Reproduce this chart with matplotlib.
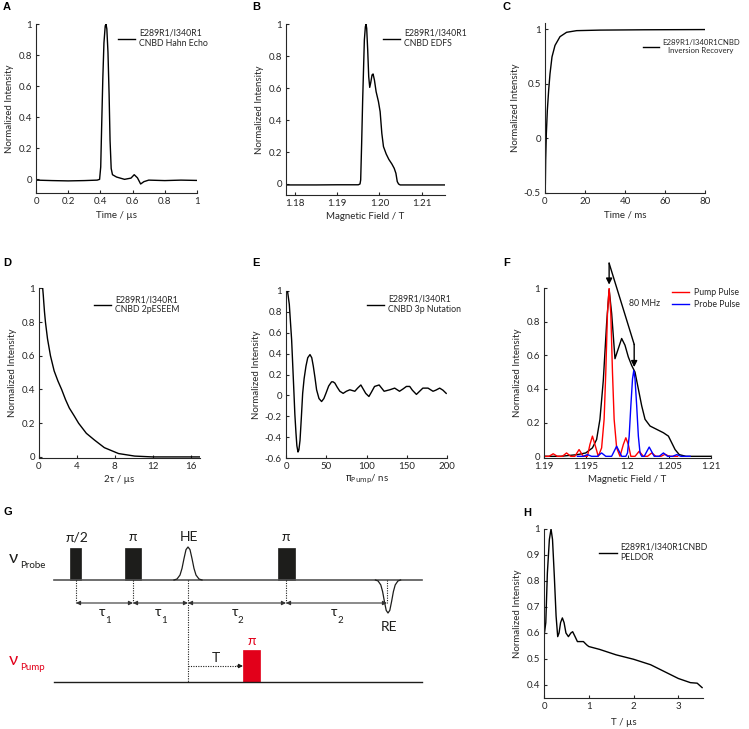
import matplotlib
matplotlib.use('Agg')
import matplotlib.pyplot as plt
from matplotlib.ticker import FormatStrFormatter
from matplotlib.patches import Rectangle

plt.rcParams['font.family'] = ['Lato', 'DejaVu Sans']
plt.rcParams['mathtext.fontset'] = 'dejavusans'

TXT = '#262626'
plt.rcParams['text.color'] = TXT
plt.rcParams['axes.labelcolor'] = TXT
plt.rcParams['xtick.color'] = TXT
plt.rcParams['ytick.color'] = TXT

W, H = 749, 729
fig = plt.figure(figsize=(W / 100, H / 100), dpi=100)

# ---------------- data ----------------
# A: Hahn echo
a_x = [0, 0.1, 0.2, 0.3, 0.38, 0.395, 0.402, 0.408, 0.415, 0.422, 0.43, 0.435, 0.44, 0.447,
       0.454, 0.46, 0.467, 0.475, 0.5, 0.55, 0.59, 0.61, 0.63, 0.65, 0.67, 0.7, 0.8, 0.9, 1.0]
a_y = [-0.005, -0.008, -0.01, -0.008, -0.005, 0.0, 0.08, 0.35, 0.65, 0.88, 0.99, 1.0, 0.97,
       0.82, 0.55, 0.25, 0.07, 0.03, 0.015, 0.0, 0.008, 0.03, 0.01, -0.03, -0.015, -0.005,
       -0.008, -0.005, -0.007]

# B: EDFS
b_x = [1.1779, 1.185, 1.19, 1.1950, 1.1954, 1.19556, 1.19579, 1.19603, 1.19643, 1.19667,
       1.19683, 1.19698, 1.19722, 1.19746, 1.19770, 1.19794, 1.19825, 1.19849, 1.19881,
       1.19921, 1.19976, 1.20016, 1.20056, 1.20095, 1.20159, 1.20222, 1.20294, 1.20349,
       1.20389, 1.20421, 1.20452, 1.2049, 1.21, 1.2155]
b_y = [-0.006, -0.006, -0.005, -0.005, 0.0, 0.025, 0.255, 0.526, 0.902, 0.985, 1.0, 0.975,
       0.839, 0.672, 0.605, 0.635, 0.683, 0.689, 0.651, 0.578, 0.516, 0.453, 0.317, 0.234,
       0.188, 0.154, 0.125, 0.098, 0.067, 0.015, 0.0, -0.006, -0.006, -0.006]

# C: inversion recovery
c_x = [0, 0.17, 0.33, 0.67, 1.17, 1.83, 2.5, 3.5, 5, 7.5, 10.8, 15.8, 27.5, 50, 80]
c_y = [-0.5, -0.42, -0.2, 0.044, 0.257, 0.44, 0.59, 0.745, 0.85, 0.93, 0.97, 0.985, 0.99,
       0.993, 0.995]

# D: 2pESEEM
d_x = [0.39, 0.45, 0.5, 0.58, 0.68, 0.9, 1.21, 1.6, 2.0, 2.39, 2.8, 3.2, 3.7, 4.18, 5.0,
       5.86, 6.9, 8.4, 10.1, 12, 14, 17]
d_y = [1.0, 0.96, 0.92, 0.86, 0.8, 0.7, 0.6, 0.51, 0.45, 0.4, 0.34, 0.29, 0.245, 0.2, 0.14,
       0.1, 0.055, 0.02, 0.005, 0.0, 0.0, 0.0]

# E: 3p nutation
e_x = [0.8, 2, 4.1, 7, 9.9, 11, 12.4, 13.5, 14.9, 16, 17.4, 19, 20.7, 22.5, 24.8, 27, 29.8,
       32, 33.9, 36, 38, 41, 44.2, 47, 49.6, 53, 56.6, 58.5, 60.7, 63.5, 66.9, 71, 75, 79.3,
       85.5, 89, 93, 99, 103, 106, 110, 115.7, 121.9, 128.9, 135, 141, 145, 149.6, 153.7,
       157, 162, 166, 170, 176.4, 182.6, 186, 190.9, 195, 199]
e_y = [1.0, 0.99, 0.87, 0.53, 0.02, -0.18, -0.36, -0.48, -0.54, -0.52, -0.43, -0.22, 0.02,
       0.16, 0.28, 0.36, 0.39, 0.36, 0.28, 0.17, 0.054, -0.03, -0.058, -0.03, 0.02, 0.09,
       0.13, 0.13, 0.118, 0.08, 0.04, 0.02, 0.04, 0.054, 0.04, 0.07, 0.1, 0.02, -0.01, 0.03,
       0.086, 0.1, 0.04, 0.054, 0.07, 0.04, 0.06, 0.086, 0.086, 0.05, 0.01, 0.04, 0.07,
       0.07, 0.04, 0.05, 0.07, 0.05, 0.02]

# F: EDFS with pump / probe excitation profiles
f_x = [1.190, 1.192, 1.193, 1.194, 1.195, 1.1958, 1.1963, 1.1967, 1.1971, 1.1975, 1.1978,
       1.1981, 1.1985, 1.1989, 1.1993, 1.1997, 1.2001, 1.2005, 1.2009, 1.2013, 1.2017,
       1.2021, 1.2027, 1.2035, 1.2043, 1.2049, 1.2053, 1.2057, 1.2062, 1.2070, 1.2100]
f_y = [0.0, 0.0, 0.005, 0.01, 0.02, 0.05, 0.1, 0.22, 0.45, 0.79, 0.99, 0.85, 0.58, 0.64,
       0.70, 0.66, 0.59, 0.54, 0.50, 0.40, 0.30, 0.22, 0.18, 0.16, 0.14, 0.12, 0.08, 0.04,
       0.01, 0.0, 0.0]
pump_x = [1.1900, 1.1906, 1.1911, 1.1916, 1.1922, 1.1927, 1.1932, 1.1937, 1.1942, 1.1947,
          1.1952, 1.1955, 1.1958, 1.1961, 1.1965, 1.1969, 1.1972, 1.1974, 1.1976, 1.1978,
          1.1980, 1.1982, 1.1984, 1.1987, 1.1991, 1.1995, 1.1998, 1.2001, 1.2004, 1.2009,
          1.2014, 1.2019, 1.2024, 1.2029, 1.2034, 1.2040, 1.2045, 1.2050, 1.2060]
pump_y = [0.0, 0.0, 0.015, 0.0, 0.0, 0.02, 0.0, 0.0, 0.04, 0.0, 0.0, 0.07, 0.12, 0.07, 0.0,
          0.05, 0.22, 0.5, 0.85, 1.0, 0.85, 0.5, 0.22, 0.05, 0.0, 0.07, 0.11, 0.07, 0.0,
          0.0, 0.03, 0.0, 0.0, 0.02, 0.0, 0.0, 0.012, 0.0, 0.0]
probe_x = [1.1940, 1.1947, 1.1952, 1.1957, 1.1964, 1.1969, 1.1974, 1.1981, 1.1987, 1.1993,
           1.1998, 1.2000, 1.2002, 1.2004, 1.2006, 1.20075, 1.2009, 1.2011, 1.2013, 1.2015,
           1.2017, 1.2020, 1.2026, 1.2032, 1.2038, 1.2043, 1.2048, 1.2054, 1.2059, 1.2064,
           1.2075]
probe_y = [0.0, 0.0, 0.01, 0.0, 0.0, 0.02, 0.0, 0.0, 0.06, 0.0, 0.0, 0.02, 0.12, 0.3, 0.46,
           0.51, 0.46, 0.3, 0.12, 0.02, 0.0, 0.0, 0.055, 0.0, 0.0, 0.02, 0.0, 0.0, 0.01, 0.0,
           0.0]
arrow_field = [1.1978, 1.2008]
arrow_top = [1.147, 0.665]
arrow_tip = [1.02, 0.53]

# H: PELDOR
h_x = [0, 0.04, 0.075, 0.12, 0.157, 0.19, 0.23, 0.27, 0.306, 0.336, 0.37, 0.41, 0.448,
       0.49, 0.545, 0.6, 0.64, 0.694, 0.746, 0.806, 0.88, 0.955, 1.0, 1.24, 1.61, 2.0, 2.38,
       3.0, 3.27, 3.42, 3.53]
h_y = [0.586, 0.64, 0.83, 0.96, 1.0, 0.96, 0.82, 0.665, 0.586, 0.6, 0.64, 0.658, 0.64, 0.6,
       0.586, 0.6, 0.605, 0.586, 0.567, 0.567, 0.567, 0.554, 0.548, 0.537, 0.516, 0.499,
       0.478, 0.425, 0.409, 0.407, 0.39]

# G: pulse sequence (schematic, drawing units = pixels)
g_line_x = [54, 422]
g_probe_base, g_pump_base = 580, 682
g_probe_pulses = [(70, 81), (125, 141), (278, 295)]
g_probe_top = 548
g_pump_pulse = (243, 260)
g_pump_top = 650
g_echo_off = [-14, -11, -8, -6, -4, -2, 0, 2, 4, 6, 8, 11, 14]
g_echo_shape = [0, 0.03, 0.15, 0.35, 0.65, 0.92, 1, 0.92, 0.65, 0.35, 0.15, 0.03, 0]
g_he_x, g_re_x, g_echo_h = 188, 388, 33
g_marks = [76, 133, 188, 286, 387]
g_arrow_y = 603
g_tau_subs = ['1', '1', '2', '2']

FS_TICK = 7
FS_LAB = 7
FS_LEG = 6.3


# ---------------- helpers ----------------
def px_axes(l, r, t, b):
    return fig.add_axes([l / W, 1 - b / H, (r - l) / W, (b - t) / H])


def style(ax):
    for s in ('top', 'right'):
        ax.spines[s].set_visible(False)
    for s in ('left', 'bottom'):
        ax.spines[s].set_color(TXT)
        ax.spines[s].set_linewidth(0.8)
    ax.tick_params(direction='in', length=2.5, width=0.8, labelsize=FS_TICK, pad=3)
    ax.xaxis.set_major_formatter(FormatStrFormatter('%g'))
    ax.yaxis.set_major_formatter(FormatStrFormatter('%g'))
    ax.set_ylabel('Normalized Intensity', fontsize=FS_LAB, labelpad=3)


def leg(ax, label, x, y, center=False, fs=FS_LEG):
    lg = ax.legend([label], loc='upper left', bbox_to_anchor=(x, y), frameon=False,
                   borderpad=0, borderaxespad=0, handlelength=2.0, handletextpad=0.45,
                   fontsize=fs)
    if center:
        for t in lg.get_texts():
            t.set_multialignment('center')
    return lg


LW = 1.0

# A
ax = px_axes(36, 197, 24.3, 193.3)
ax.plot(a_x, a_y, color='k', lw=LW)
ax.set_xlim(0, 1)
ax.set_ylim(-0.09, 1)
ax.set_xticks([0, 0.2, 0.4, 0.6, 0.8, 1])
ax.set_yticks([0, 0.2, 0.4, 0.6, 0.8, 1])
style(ax)
ax.set_xlabel('Time / µs', fontsize=FS_LAB, labelpad=3)
leg(ax, 'E289R1/I340R1\nCNBD Hahn Echo', 0.509, 0.975)

# B
ax = px_axes(286, 445, 24.3, 195)
ax.plot(b_x, b_y, color='k', lw=LW)
ax.set_xlim(1.1779, 1.2155)
ax.set_ylim(-0.069, 1)
ax.set_xticks([1.18, 1.19, 1.20, 1.21])
ax.set_yticks([0, 0.2, 0.4, 0.6, 0.8, 1])
style(ax)
ax.xaxis.set_major_formatter(FormatStrFormatter('%.2f'))
ax.set_xlabel('Magnetic Field / T', fontsize=FS_LAB, labelpad=3)
leg(ax, 'E289R1/I340R1\nCNBD EDFS', 0.61, 0.975)

# C
ax = px_axes(545, 705, 23, 193)
ax.plot(c_x, c_y, color='k', lw=LW)
ax.set_xlim(0, 80)
ax.set_ylim(-0.5, 1.055)
ax.set_xticks([0, 20, 40, 60, 80])
ax.set_yticks([-0.5, 0, 0.5, 1])
style(ax)
ax.set_xlabel('Time / ms', fontsize=FS_LAB, labelpad=3)
leg(ax, 'E289R1/I340R1CNBD\nInversion Recovery', 0.6125, 0.905, center=True, fs=5.6)

# D
ax = px_axes(39, 200, 288.3, 457.6)
ax.plot(d_x, d_y, color='k', lw=LW)
ax.set_xlim(0, 17)
ax.set_ylim(-0.004, 1)
ax.set_xticks([0, 4, 8, 12, 16])
ax.set_yticks([0, 0.2, 0.4, 0.6, 0.8, 1])
style(ax)
ax.set_xlabel('2τ / µs', fontsize=FS_LAB, labelpad=3)
leg(ax, 'E289R1/I340R1\nCNBD 2pESEEM', 0.34, 0.96)

# E
ax = px_axes(286, 447, 290.7, 458.3)
ax.plot(e_x, e_y, color='k', lw=LW)
ax.set_xlim(0, 200)
ax.set_ylim(-0.6, 1)
ax.set_xticks([0, 50, 100, 150, 200])
ax.set_yticks([-0.6, -0.4, -0.2, 0, 0.2, 0.4, 0.6, 0.8, 1])
style(ax)
ax.set_xlabel(r'$\mathrm{\pi_{Pump}}$/ ns', fontsize=FS_LAB, labelpad=1)
leg(ax, 'E289R1/I340R1\nCNBD 3p Nutation', 0.503, 0.975)

# F
ax = px_axes(544, 711, 288, 458)
ax.plot(f_x, f_y, color='k', lw=LW)
lp, = ax.plot(pump_x, pump_y, color='#ff0000', lw=LW)
lb, = ax.plot(probe_x, probe_y, color='#0000ff', lw=LW)
ax.set_xlim(1.19, 1.21)
ax.set_ylim(-0.01, 1)
ax.set_xticks([1.19, 1.195, 1.2, 1.205, 1.21])
ax.set_yticks([0, 0.2, 0.4, 0.6, 0.8, 1])
style(ax)
ax.set_xlabel('Magnetic Field / T', fontsize=FS_LAB, labelpad=3)
ax.legend([lp, lb], ['Pump Pulse', 'Probe Pulse'], loc='upper left',
          bbox_to_anchor=(0.766, 1.0), frameon=False, borderpad=0, borderaxespad=0,
          handlelength=2.0, handletextpad=0.5, labelspacing=0.35, fontsize=FS_LEG)
ax.plot([arrow_field[0], arrow_field[1]], [arrow_top[0], arrow_top[1]], color='k', lw=LW,
        clip_on=False)
for fx, ft, fb in zip(arrow_field, arrow_top, arrow_tip):
    ax.annotate('', xy=(fx, fb), xytext=(fx, ft), annotation_clip=False,
                arrowprops=dict(arrowstyle='-|>', color='k', lw=LW, mutation_scale=9,
                                shrinkA=0, shrinkB=0))
ax.text(1.2002, 0.906, '80 MHz', fontsize=FS_LEG, ha='left', va='center')

# H
ax = px_axes(544, 703, 529, 698)
ax.plot(h_x, h_y, color='k', lw=LW)
ax.set_xlim(0, 3.55)
ax.set_ylim(0.35, 1.0)
ax.set_xticks([0, 1, 2, 3])
ax.set_yticks([0.4, 0.5, 0.6, 0.7, 0.8, 0.9, 1])
style(ax)
ax.set_xlabel('T / µs', fontsize=FS_LAB, labelpad=5)
leg(ax, 'E289R1/I340R1CNBD\nPELDOR', 0.346, 0.92)

# G schematic on a pixel-coordinate overlay
g = fig.add_axes([0, 0, 1, 1], zorder=-1)
g.set_xlim(0, W)
g.set_ylim(H, 0)
g.axis('off')
DARK = '#1d1d1b'
RED = '#e2001a'
g.plot(g_line_x, [g_probe_base] * 2, color='#555555', lw=1.2)
g.plot(g_line_x, [g_pump_base] * 2, color=DARK, lw=1.0)
for x0, x1 in g_probe_pulses:
    g.add_patch(Rectangle((x0, g_probe_top), x1 - x0, g_probe_base - g_probe_top,
                          facecolor=DARK, edgecolor=DARK, lw=0.5))
g.add_patch(Rectangle((g_pump_pulse[0], g_pump_top), g_pump_pulse[1] - g_pump_pulse[0],
                      g_pump_base - g_pump_top, facecolor=RED, edgecolor=RED, lw=0.5))
g.plot([g_he_x + o for o in g_echo_off], [g_probe_base - g_echo_h * s for s in g_echo_shape],
       color=DARK, lw=0.9)
g.plot([g_re_x + o * 0.9 for o in g_echo_off],
       [g_probe_base + g_echo_h * s for s in g_echo_shape], color=DARK, lw=0.9)
for mx in g_marks:
    yb = g_pump_base if mx == g_he_x else g_arrow_y
    g.plot([mx, mx], [g_probe_base, yb], color=DARK, lw=0.8, ls=(0, (1, 1.2)))
for x0, x1 in zip(g_marks[:-1], g_marks[1:]):
    g.annotate('', xy=(x1, g_arrow_y), xytext=(x0, g_arrow_y),
               arrowprops=dict(arrowstyle='<|-|>', color='#333333', lw=0.8,
                               mutation_scale=6, shrinkA=0, shrinkB=0))
# tau labels
for sub, x0, x1 in zip(g_tau_subs, g_marks[:-1], g_marks[1:]):
    tx = (x0 + x1) / 2
    g.text(tx - 2, 612, 'τ', fontsize=10, ha='center', va='center', color=DARK)
    g.text(tx + 3.5, 620.5, sub, fontsize=7, ha='center', va='center', color=DARK)
# T arrow
g.plot([g_he_x, g_pump_pulse[0] - 5], [666, 666], color=DARK, lw=0.8, ls=(0, (1, 1.2)))
g.annotate('', xy=(g_pump_pulse[0], 666), xytext=(g_pump_pulse[0] - 6, 666),
           arrowprops=dict(arrowstyle='-|>', color=DARK, lw=0.8, mutation_scale=6,
                           shrinkA=0, shrinkB=0))
g.text(216, 658, 'T', fontsize=10, ha='center', va='center', color=DARK)
g.text(77, 537, 'π/2', fontsize=10, ha='center', va='center', color=DARK)
g.text(133, 537, 'π', fontsize=10, ha='center', va='center', color=DARK)
g.text(286, 537, 'π', fontsize=10, ha='center', va='center', color=DARK)
g.text(189, 537, 'HE', fontsize=10, ha='center', va='center', color=DARK)
g.text(389, 627, 'RE', fontsize=10, ha='center', va='center', color=DARK)
g.text(252, 641, 'π', fontsize=10, ha='center', va='center', color=RED)
g.text(13, 558, 'ν', fontsize=13, ha='center', va='center', color=DARK)
g.text(20, 566, 'Probe', fontsize=7, ha='left', va='center', color=DARK)
g.text(13, 660, 'ν', fontsize=13, ha='center', va='center', color=RED)
g.text(20, 667, 'Pump', fontsize=7, ha='left', va='center', color=RED)

# panel letters
for lab, px, py in [('A', 3, 7), ('B', 252, 7), ('C', 503, 7), ('D', 3, 263),
                    ('E', 252, 263), ('F', 503, 263), ('G', 4, 512), ('H', 523, 513)]:
    fig.text(px / W, 1 - py / H, lab, fontsize=8, fontweight='bold', ha='left',
             va='center', family=['Liberation Sans', 'DejaVu Sans'], color='k')

fig.savefig('out.png', dpi=100)
